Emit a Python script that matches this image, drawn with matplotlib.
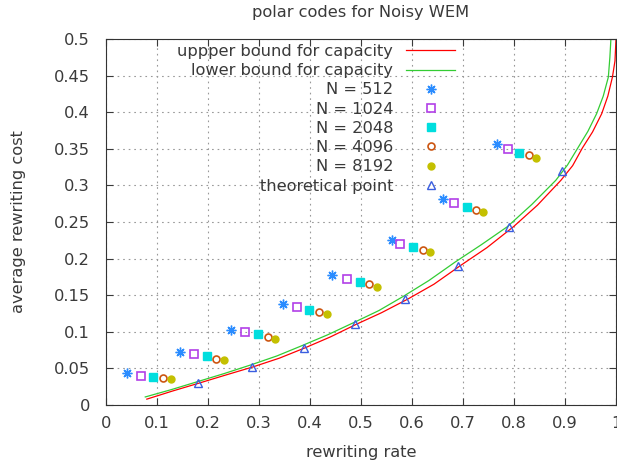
import matplotlib
matplotlib.use("Agg")
import matplotlib.pyplot as plt
from matplotlib.ticker import MultipleLocator, FuncFormatter

# capacity bounds
upper_x = [0.08, 0.13, 0.183, 0.235, 0.288, 0.34, 0.39, 0.44, 0.49, 0.54, 0.591, 0.643,
           0.694, 0.747, 0.799, 0.846, 0.892, 0.915, 0.934, 0.954, 0.972, 0.984, 0.993, 0.998, 1.0]
upper_y = [0.008, 0.019, 0.030, 0.041, 0.052, 0.064, 0.078, 0.093, 0.110, 0.126, 0.1444, 0.165,
           0.190, 0.215, 0.2436, 0.273, 0.307, 0.327, 0.351, 0.373, 0.398, 0.422, 0.448, 0.47, 0.50]
lower_x = [0.077, 0.128, 0.18, 0.232, 0.285, 0.335, 0.384, 0.435, 0.487, 0.535, 0.582, 0.633,
           0.684, 0.736, 0.787, 0.835, 0.882, 0.905, 0.925, 0.945, 0.962, 0.975, 0.985, 0.988, 0.990]
lower_y = [0.011, 0.021, 0.032, 0.043, 0.055, 0.067, 0.081, 0.096, 0.113, 0.129, 0.148, 0.170,
           0.195, 0.219, 0.2436, 0.274, 0.307, 0.328, 0.351, 0.374, 0.398, 0.422, 0.448, 0.475, 0.50]

# simulated points for each code length
n512_x = [0.0405, 0.146, 0.246, 0.348, 0.444, 0.561, 0.661, 0.767]
n512_y = [0.0433, 0.072, 0.103, 0.138, 0.1776, 0.2254, 0.281, 0.356]
n1024_x = [0.0686, 0.1725, 0.273, 0.374, 0.473, 0.576, 0.683, 0.788]
n1024_y = [0.0396, 0.0692, 0.0993, 0.1334, 0.1726, 0.220, 0.2754, 0.350]
n2048_x = [0.0928, 0.199, 0.2987, 0.399, 0.4987, 0.602, 0.707, 0.810]
n2048_y = [0.0383, 0.0665, 0.0966, 0.1298, 0.1685, 0.2158, 0.270, 0.3447]
n4096_x = [0.112, 0.216, 0.318, 0.418, 0.516, 0.622, 0.7255, 0.829]
n4096_y = [0.0369, 0.0633, 0.0933, 0.1266, 0.1649, 0.2113, 0.2668, 0.342]
n8192_x = [0.127, 0.232, 0.332, 0.433, 0.531, 0.636, 0.739, 0.843]
n8192_y = [0.0355, 0.062, 0.0906, 0.1239, 0.1616, 0.2086, 0.2631, 0.3379]
theo_x = [0.180, 0.2857, 0.388, 0.488, 0.586, 0.690, 0.791, 0.8935]
theo_y = [0.0296, 0.0523, 0.078, 0.110, 0.1444, 0.190, 0.2436, 0.3197]

fs = 11.7
plt.rcParams['font.family'] = 'DejaVu Sans'
plt.rcParams['font.size'] = fs
txt = '#3a3a3a'

fig = plt.figure(figsize=(6.17, 4.65), dpi=100)
ax = fig.add_axes([106 / 617, 1 - 405 / 465, 510 / 617, 366 / 465])

ax.plot(upper_x, upper_y, color='red', lw=0.9, label='uppper bound for capacity')
ax.plot(lower_x, lower_y, color='#33cc33', lw=0.9, label='lower bound for capacity')
ax.plot(n512_x, n512_y, ls='none', marker=(8, 2, 0), ms=7, mew=1.0, color='#2a8cff', label='N = 512')
ax.plot(n1024_x, n1024_y, ls='none', marker='s', ms=6, mew=1.2, mfc='none', color='#b23fe8', label='N = 1024')
ax.plot(n2048_x, n2048_y, ls='none', marker='s', ms=6, color='#00dede', label='N = 2048')
ax.plot(n4096_x, n4096_y, ls='none', marker='o', ms=5, mew=1.2, mfc='none', color='#cc5511', label='N = 4096')
ax.plot(n8192_x, n8192_y, ls='none', marker='o', ms=5, color='#c4c000', label='N = 8192')
ax.plot(theo_x, theo_y, ls='none', marker='^', ms=6, mew=1.0, mfc='none', color='#3a5ee0', label='theoretical point')

ax.set_xlim(0, 1)
ax.set_ylim(0, 0.5)
ax.xaxis.set_major_locator(MultipleLocator(0.1))
ax.yaxis.set_major_locator(MultipleLocator(0.05))
ax.xaxis.set_major_formatter(FuncFormatter(lambda v, p: '%g' % round(v, 2)))
ax.yaxis.set_major_formatter(FuncFormatter(lambda v, p: '%g' % round(v, 2)))
ax.tick_params(direction='in', top=True, right=True, length=5, width=0.8,
               labelsize=fs, colors=txt)
ax.tick_params(axis='x', pad=8)
ax.tick_params(axis='y', pad=11.5)
ax.grid(True, ls=(0, (1.5, 3.5)), color='#999999', lw=0.8)
for s in ax.spines.values():
    s.set_color('#333333')

ax.set_xlabel('rewriting rate', color=txt, labelpad=10)
ax.set_ylabel('average rewriting cost', color=txt, labelpad=20)
ax.set_title('polar codes for Noisy WEM', color=txt, fontsize=fs, pad=16)

ax.legend(loc='upper right', bbox_to_anchor=(455 / 617, 1 - 44 / 465),
          bbox_transform=fig.transFigure, frameon=False, markerfirst=False,
          handlelength=3.0, handletextpad=0.8, labelspacing=0.26,
          fontsize=fs, borderpad=0, borderaxespad=0, labelcolor=txt)

fig.savefig('out.png', dpi=100)
